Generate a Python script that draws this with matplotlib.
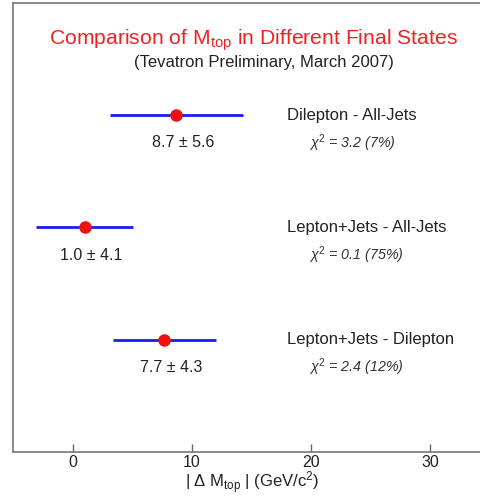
import matplotlib
matplotlib.use("Agg")
import matplotlib.pyplot as plt

plt.rcParams["font.family"] = ["Liberation Sans", "DejaVu Sans"]
plt.rcParams["mathtext.fontset"] = "custom"
plt.rcParams["mathtext.rm"] = "Liberation Sans"
plt.rcParams["mathtext.it"] = "Liberation Sans:italic"
plt.rcParams["mathtext.bf"] = "Liberation Sans:bold"

# Mass differences between final states (GeV/c^2)
channels = ["Dilepton - All-Jets", "Lepton+Jets - All-Jets", "Lepton+Jets - Dilepton"]
delta_m = [8.7, 1.0, 7.7]
errors = [5.6, 4.1, 4.3]
chi2 = [3.2, 0.1, 2.4]
prob = [7, 75, 12]
rows = [3, 2, 1]
xticks = [0, 10, 20, 30]

W, H = 480, 496
fig = plt.figure(figsize=(W / 100, H / 100), dpi=100)
ax = fig.add_axes([13 / W, 44 / H, 477 / W, 449 / H])
ax.set_xlim(-5, 35)
ax.set_ylim(0, 4)

ax.errorbar(delta_m, rows, xerr=errors, fmt="o", color="#ee1111",
            ecolor="#1a1aff", elinewidth=2, markersize=8, capsize=0, zorder=3)

txt = "#222222"
for name, m, e, c, p, y in zip(channels, delta_m, errors, chi2, prob, rows):
    ax.annotate(f"{m:.1f} \u00b1 {e:.1f}", (m, y - 0.245), xytext=(5, 0),
                textcoords="offset points", ha="center", va="center",
                fontsize=11.5, color=txt)
    ax.text(18.0, y, name, ha="left", va="center", fontsize=12, color=txt)
    ax.text(19.85, y - 0.245, rf"$\chi^2$ = {c:.1f} ({p}%)", ha="left",
            va="center", fontsize=10.3, style="italic", color="#333333")

ax.set_xticks(xticks)
ax.set_xticklabels([str(t) for t in xticks], fontsize=11.5, color=txt)
ax.tick_params(axis="x", direction="in", length=6, width=1, color="#666666", pad=2)
ax.set_yticks([])
ax.spines["right"].set_visible(False)
for side in ["left", "top", "bottom"]:
    ax.spines[side].set_color("#777777")
    ax.spines[side].set_linewidth(1.2)

fig.text(253 / W, 1 - 40 / H, r"Comparison of M$_{\rm top}$ in Different Final States",
         ha="center", va="center", fontsize=15.2, color="#ee2222")
fig.text(264 / W, 1 - 62 / H, "(Tevatron Preliminary, March 2007)",
         ha="center", va="center", fontsize=12, color=txt)
fig.text(252 / W, 1 - 483 / H, r"| $\Delta$ M$_{\rm top}$ | (GeV/c$^{2}$)",
         ha="center", va="center", fontsize=12, color=txt)

fig.savefig("out.png", dpi=100)
